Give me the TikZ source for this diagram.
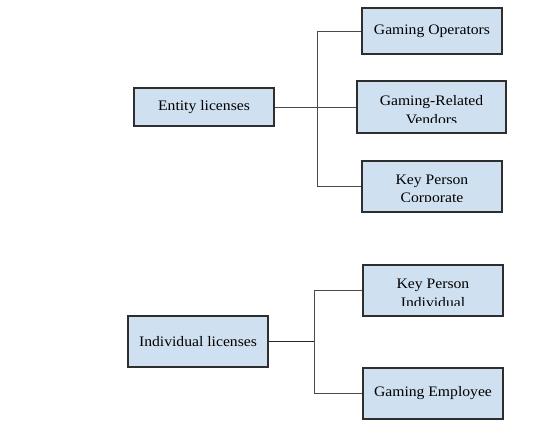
\documentclass[tikz,border=0pt]{standalone}
\usepackage{fontspec}
\setmainfont{Liberation Serif}[FakeStretch=1.08]
\definecolor{boxfill}{HTML}{CFE0F1}
\definecolor{boxline}{HTML}{2E2E2E}
\definecolor{connline}{HTML}{4A4A4A}
\tikzset{
  box/.style={draw=boxline, line width=1.1pt, fill=boxfill, rectangle, inner sep=0pt,
    font=\fontsize{14.5}{18}\selectfont, text=black},
  lbl/.style={anchor=base, inner sep=0pt, font=\fontsize{14.5}{18}\selectfont, text=black},
  conn/.style={draw=connline, line width=0.9pt},
  connb/.style={draw=black!85, line width=1.8pt}
}
\begin{document}
\begin{tikzpicture}[x=1pt,y=-1pt]
\useasboundingbox[fill=white] (0,0) rectangle (550,426);
% boxes
\node[box, minimum width=140pt, minimum height=38pt] (ent) at (204,107) {Entity licenses};
\node[box, minimum width=140pt, minimum height=46pt] (go) at (432,31) {Gaming Operators};
\node[box, minimum width=149pt, minimum height=52pt] (grv) at (431.5,107) {};
\node[box, minimum width=140pt, minimum height=51pt] (kpc) at (432,186.5) {};
\node[box, minimum width=140pt, minimum height=51pt] (ind) at (198,341.5) {Individual licenses};
\node[box, minimum width=140pt, minimum height=51pt] (kpi) at (433,290.5) {};
\node[box, minimum width=140pt, minimum height=51pt] (ge) at (433,393.5) {Gaming Employee};
% clipped two-line labels
\begin{scope}
  \clip (358,82) rectangle (505,122.8);
  \node[lbl] (grvA) at (431.5,105.5) {Gaming-Related};
  \node[lbl] (grvB) at (431.5,124.5) {Vendors};
\end{scope}
\begin{scope}
  \clip (363,162) rectangle (501,201.7);
  \node[lbl] (kpcA) at (432,184) {Key Person};
  \node[lbl] (kpcB) at (432,202.8) {Corporate};
\end{scope}
\begin{scope}
  \clip (364,266) rectangle (502,305.3);
  \node[lbl] (kpiA) at (433,288.3) {Key Person};
  \node[lbl] (kpiB) at (433,307) {Individual};
\end{scope}
% connectors
\coordinate (j1) at (318,107);
\draw[conn] (ent.east) -- (grv.west);
\draw[conn] (go.west) -- ++(-44,0) |- (kpc.west);
\coordinate (j2) at (315,341.5);
\draw[connb] (ind.east) -- (j2);
\draw[conn] (kpi.west) -- ++(-48,0) |- (ge.west);
\end{tikzpicture}
\end{document}
